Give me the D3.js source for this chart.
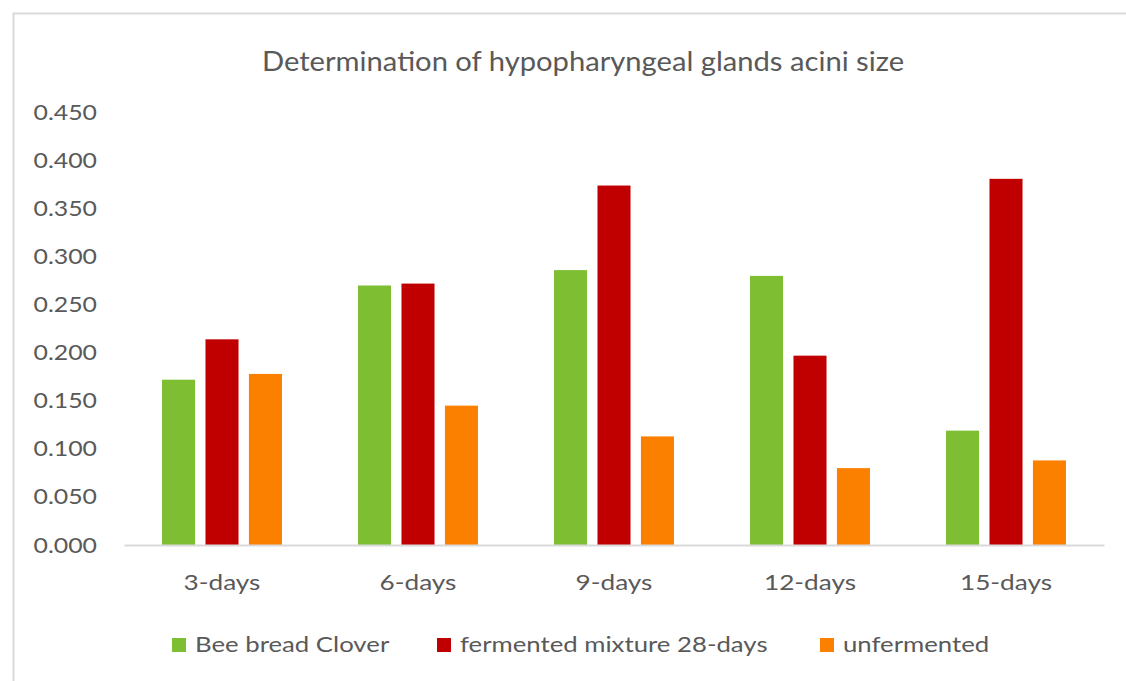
<!DOCTYPE html>
<html>
<head>
<meta charset="utf-8">
<script src="https://cdn.jsdelivr.net/npm/d3@7"></script>
<style>
  html, body { margin: 0; padding: 0; background: #fff; }
  text { font-family: Lato, "Open Sans", sans-serif; fill: #595959; }
</style>
</head>
<body>
<svg id="chart" width="1126" height="681"></svg>
<script>
const title = "Determination of hypopharyngeal glands acini size";
const categories = ["3-days", "6-days", "9-days", "12-days", "15-days"];
const seriesNames = ["Bee bread Clover", "fermented mixture 28-days", "unfermented"];
const seriesColors = ["#7dbe33", "#c00000", "#fb8000"];
const beeBreadClover = [0.172, 0.270, 0.286, 0.280, 0.119];
const fermented28 = [0.214, 0.272, 0.374, 0.197, 0.381];
const unfermented = [0.178, 0.145, 0.113, 0.080, 0.088];
const yTicks = [0, 0.05, 0.10, 0.15, 0.20, 0.25, 0.30, 0.35, 0.40, 0.45];

const seriesValues = [beeBreadClover, fermented28, unfermented];

const svg = d3.select("#chart");

// horizontal stretch of text (reference font is wider than Lato)
function stretch(sel, factor) {
  sel.each(function () {
    const len = this.getComputedTextLength();
    d3.select(this).attr("textLength", len * factor).attr("lengthAdjust", "spacingAndGlyphs");
  });
}

// chart border
svg.append("rect")
  .attr("x", 13.5).attr("y", 13.5)
  .attr("width", 1300).attr("height", 800)
  .attr("fill", "none").attr("stroke", "#d9d9d9").attr("stroke-width", 2);

const plotLeft = 124, plotRight = 1104, plotTop = 112.5, plotBottom = 545;

const x0 = d3.scaleBand().domain(categories).range([plotLeft, plotRight])
  .paddingInner(0.388).paddingOuter(0.194);
const x1 = d3.scaleBand().domain(seriesNames).range([0, x0.bandwidth()])
  .paddingInner(0.24);
const y = d3.scaleLinear().domain([0, 0.45]).range([plotBottom, plotTop]);
const color = d3.scaleOrdinal().domain(seriesNames).range(seriesColors);

// title
const t = svg.append("text")
  .attr("x", 583).attr("y", 71)
  .attr("text-anchor", "middle")
  .style("font-size", "27px")
  .text(title);
stretch(t, 1.08);

// y axis (labels only)
const yAxis = d3.axisLeft(y).tickValues(yTicks).tickFormat(d3.format(".3f")).tickSize(0).tickPadding(0);
const yg = svg.append("g").attr("transform", `translate(97,0)`).call(yAxis);
yg.select(".domain").remove();
yg.selectAll("text").style("font-size", "22px").attr("fill", "#595959");
stretch(yg.selectAll("text"), 1.13);

// bars
const groups = svg.append("g").selectAll("g")
  .data(categories)
  .join("g")
  .attr("transform", d => `translate(${x0(d)},0)`);

groups.selectAll("rect")
  .data((d, i) => seriesNames.map((s, j) => ({ s, v: seriesValues[j][i] })))
  .join("rect")
  .attr("x", d => x1(d.s))
  .attr("width", x1.bandwidth())
  .attr("y", d => y(d.v))
  .attr("height", d => y(0) - y(d.v))
  .attr("fill", d => color(d.s));

// x axis
const xAxis = d3.axisBottom(x0).tickSize(0).tickPadding(0);
const xg = svg.append("g").attr("transform", `translate(0,${plotBottom})`).call(xAxis);
xg.select(".domain").attr("stroke", "#d9d9d9").attr("stroke-width", 2);
xg.selectAll("text").style("font-size", "22px").attr("fill", "#595959").attr("dy", "0").attr("y", 45);
stretch(xg.selectAll("text"), 1.19);

// legend
const legendX = [172, 437, 820];
const lg = svg.append("g").selectAll("g")
  .data(seriesNames)
  .join("g")
  .attr("transform", (d, i) => `translate(${legendX[i]},638)`);
lg.append("rect").attr("width", 14).attr("height", 14).attr("fill", d => color(d));
const lt = lg.append("text").attr("x", 23).attr("y", 14).style("font-size", "22px").text(d => d);
stretch(lt, 1.17);
</script>
</body>
</html>
